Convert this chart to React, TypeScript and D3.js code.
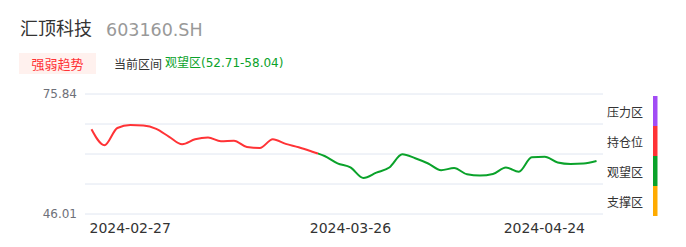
import React from "react";
import * as d3 from "d3";

const dates: string[] = [
  "2024-02-27","2024-02-28","2024-02-29","2024-03-01","2024-03-04","2024-03-05","2024-03-06","2024-03-07",
  "2024-03-08","2024-03-11","2024-03-12","2024-03-13","2024-03-14","2024-03-15","2024-03-18","2024-03-19",
  "2024-03-20","2024-03-21","2024-03-22","2024-03-25","2024-03-26","2024-03-27","2024-03-28","2024-03-29",
  "2024-04-01","2024-04-02","2024-04-03","2024-04-08","2024-04-09","2024-04-10","2024-04-11","2024-04-12",
  "2024-04-15","2024-04-16","2024-04-17","2024-04-18","2024-04-19","2024-04-22","2024-04-23","2024-04-24",
];
const prices: number[] = [
  67.07, 63.09, 67.39, 68.13, 68.01, 67.19, 65.2, 63.34, 64.58, 65.03,
  64.08, 64.23, 62.67, 62.42, 64.6, 63.44, 62.59, 61.55, 60.43, 58.61,
  57.57, 54.98, 56.28, 57.57, 60.85, 59.88, 58.56, 56.9, 57.44, 55.88,
  55.56, 55.95, 57.57, 56.52, 60.13, 60.25, 58.81, 58.44, 58.56, 59.18,
];
const zoneOfPoint: string[] = dates.map((_, i) => (i <= 17 ? "持仓位" : "观望区"));
const xTickLabels: string[] = ["2024-02-27", "2024-03-26", "2024-04-24"];
const yMin = 46.01;
const yMax = 75.84;
const zoneNames: string[] = ["压力区", "持仓位", "观望区", "支撑区"];
const zoneColors: string[] = ["#a24cf5", "#ff3336", "#0aa22a", "#ffab00"];
const stockName = "汇顶科技";
const stockCode = "603160.SH";
const badgeText = "强弱趋势";
const currentLabel = "当前区间";
const currentZone = "观望区(52.71-58.04)";

const FONT = "'DejaVu Sans', 'Noto Sans CJK SC', sans-serif";

export default function App() {
  const left = 85, right = 603, top = 94, bottom = 214;
  const x = d3.scalePoint<string>().domain(dates).range([left, right]).padding(0.5);
  const y = d3.scaleLinear().domain([yMin, yMax]).range([bottom, top]);
  const grid = [0, 1, 2, 3, 4].map((k) => yMin + (k * (yMax - yMin)) / 4);
  const line = d3
    .line<number>()
    .x((_, i) => x(dates[i]) as number)
    .y((d) => y(d))
    .curve(d3.curveMonotoneX);
  const path = line(prices) || "";
  const lastRed = zoneOfPoint.lastIndexOf("持仓位");
  const splitX = ((x(dates[lastRed]) as number) + (x(dates[lastRed + 1]) as number)) / 2;
  const zoneBand = d3.scaleBand<string>().domain(zoneNames).range([96, 216]);
  const anchors = ["start", "middle", "end"];
  const offsets = [-2, 0, -11.5];

  return (
    <svg width={686} height={247} style={{ position: "absolute", left: 0, top: 0, fontFamily: FONT }}>
      <rect width={686} height={247} fill="#fff" />
      <text x={20} y={35} fontSize={18} fill="#333" fontFamily="'Noto Sans CJK SC', sans-serif">{stockName}</text>
      <text x={106} y={36} fontSize={17.5} fill="#999">{stockCode}</text>
      <rect x={19} y={53} width={77} height={21} fill="#fff1ee" />
      <text x={57.5} y={63.5} fontSize={13} fill="#ff3336" textAnchor="middle" dominantBaseline="central" fontFamily="'Noto Sans CJK SC', sans-serif">{badgeText}</text>
      <text x={114} y={63} fontSize={12} fill="#333" dominantBaseline="central" fontFamily="'Noto Sans CJK SC', sans-serif">{currentLabel}</text>
      <text x={165} y={63} fontSize={12} fill="#0aa22a" dominantBaseline="central">{currentZone}</text>

      {grid.map((g, i) => (
        <line key={i} x1={left} x2={right} y1={y(g)} y2={y(g)} stroke="#e0e6f1" strokeWidth={1} />
      ))}
      <text x={77} y={y(yMax)} fontSize={12} fill="#6e7079" textAnchor="end" dominantBaseline="central">{yMax.toFixed(2)}</text>
      <text x={77} y={y(yMin)} fontSize={12} fill="#6e7079" textAnchor="end" dominantBaseline="central">{yMin.toFixed(2)}</text>

      {xTickLabels.map((t, i) => (
        <text key={t} x={(x(t) as number) + offsets[i]} y={233} fontSize={14} fill="#333" textAnchor={anchors[i]}>{t}</text>
      ))}

      <defs>
        <clipPath id="clipRed"><rect x={0} y={0} width={splitX} height={247} /></clipPath>
        <clipPath id="clipGreen"><rect x={splitX} y={0} width={686 - splitX} height={247} /></clipPath>
      </defs>
      <path d={path} fill="none" stroke="#ff3336" strokeWidth={2} clipPath="url(#clipRed)" />
      <path d={path} fill="none" stroke="#0aa22a" strokeWidth={2} clipPath="url(#clipGreen)" />

      {zoneNames.map((z, i) => (
        <g key={z}>
          <text x={607} y={(zoneBand(z) as number) + zoneBand.bandwidth() / 2} fontSize={12} fill="#333" dominantBaseline="central" fontFamily="'Noto Sans CJK SC', sans-serif">{z}</text>
          <rect x={653} y={zoneBand(z) as number} width={4.5} height={zoneBand.bandwidth()} fill={zoneColors[i]} />
        </g>
      ))}
    </svg>
  );
}
